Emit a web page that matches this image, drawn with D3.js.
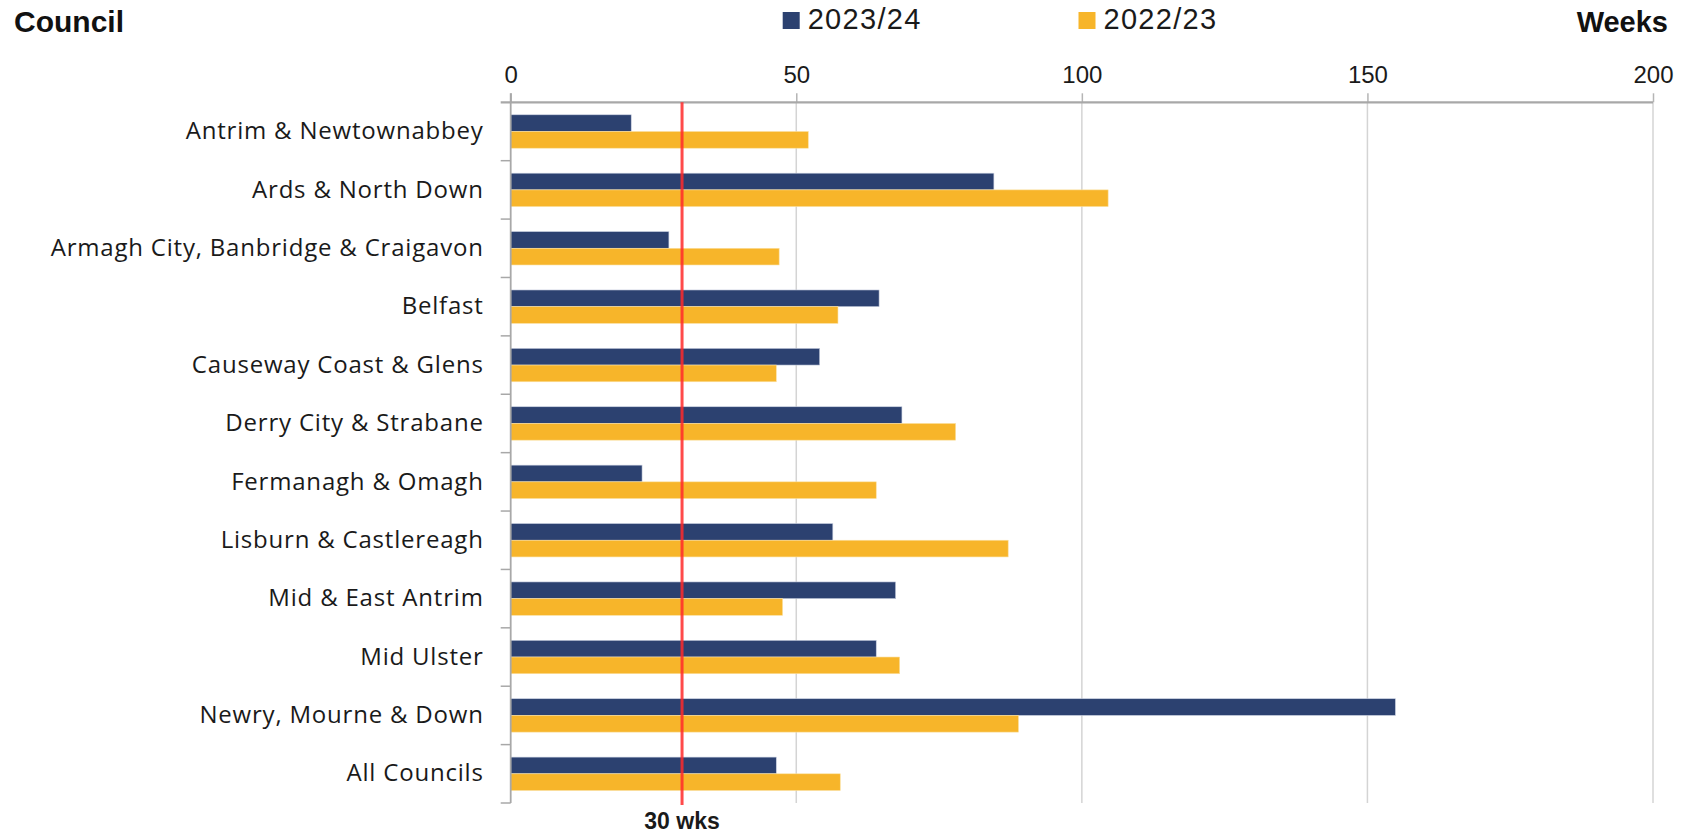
<!DOCTYPE html>
<html>
<head>
<meta charset="utf-8">
<script src="https://cdn.jsdelivr.net/npm/d3@7"></script>
<style>
  body { margin: 0; background: #fff; }
  svg { display: block; }
</style>
</head>
<body>
<svg id="chart" width="1686" height="836"></svg>
<script>
const councils = [
  "Antrim & Newtownabbey",
  "Ards & North Down",
  "Armagh City, Banbridge & Craigavon",
  "Belfast",
  "Causeway Coast & Glens",
  "Derry City & Strabane",
  "Fermanagh & Omagh",
  "Lisburn & Castlereagh",
  "Mid & East Antrim",
  "Mid Ulster",
  "Newry, Mourne & Down",
  "All Councils"
];
const weeks2324 = [21.1, 84.6, 27.7, 64.5, 54.1, 68.5, 23.0, 56.4, 67.4, 64.0, 154.9, 46.5];
const weeks2223 = [52.1, 104.6, 47.0, 57.3, 46.5, 77.9, 64.0, 87.1, 47.6, 68.1, 88.9, 57.7];
const seriesNames = ["2023/24", "2022/23"];
const seriesColors = ["#2C4170", "#F7B52A"];
const xTicks = [0, 50, 100, 150, 200];
const targetWeeks = 30;
const targetLabel = "30 wks";

(function () {
const svg = d3.select("#chart");
const mLeft = 510.7, mRight = 1653, mTop = 102.3, mBottom = 803;
const font = "'Liberation Sans', Arial, sans-serif";

const x = d3.scaleLinear().domain([0, 200]).range([mLeft, mRight]);
const y = d3.scaleBand().domain(councils).range([mTop, mBottom]).padding(0);
const barH = 16.7;

// grid lines
svg.append("g").selectAll("line").data(xTicks.filter(d => d > 0)).join("line")
  .attr("x1", d => x(d)).attr("x2", d => x(d))
  .attr("y1", mTop).attr("y2", mBottom)
  .attr("stroke", "#d4d4d4").attr("stroke-width", 1.5);

// bars
const data = councils.map((c, i) => ({c, v: [weeks2324[i], weeks2223[i]]}));
const g = svg.append("g");
data.forEach(d => {
  d.v.forEach((v, k) => {
    g.append("rect")
      .attr("x", x(0))
      .attr("y", y(d.c) + y.bandwidth() / 2 - barH + k * barH)
      .attr("width", x(v) - x(0))
      .attr("height", barH)
      .attr("fill", seriesColors[k])
      .attr("stroke", k === 0 ? "#c8cfe0" : "#fbe0a0")
      .attr("stroke-width", 0.6);
  });
});

// top axis
const xAxis = d3.axisTop(x).tickValues(xTicks).tickSize(9).tickPadding(10).tickFormat(d3.format("d"));
const ax = svg.append("g").attr("transform", `translate(0,${mTop})`).call(xAxis);
ax.select(".domain").remove();
ax.selectAll(".tick line").attr("stroke", "#b5b5b5").attr("stroke-width", 1.5);
ax.selectAll(".tick text").attr("font-family", font).attr("font-size", 24).attr("fill", "#1a1a1a");
svg.append("line").attr("x1", mLeft - 10).attr("x2", mRight).attr("y1", mTop).attr("y2", mTop)
  .attr("stroke", "#a8a8a8").attr("stroke-width", 2.2);

// left axis
svg.append("line").attr("x1", mLeft).attr("x2", mLeft).attr("y1", mTop - 9).attr("y2", mBottom)
  .attr("stroke", "#a8a8a8").attr("stroke-width", 1.8);
const boundaries = councils.map(c => y(c)).concat([mBottom]);
svg.append("g").selectAll("line").data(boundaries.slice(1)).join("line")
  .attr("x1", mLeft - 10).attr("x2", mLeft).attr("y1", d => d).attr("y2", d => d)
  .attr("stroke", "#a8a8a8").attr("stroke-width", 1.5);

const yAxis = d3.axisLeft(y).tickSize(0).tickPadding(27);
const ay = svg.append("g").attr("transform", `translate(${mLeft},0)`).call(yAxis);
ay.select(".domain").remove();
ay.selectAll(".tick text").attr("font-family", "'Open Sans', 'Liberation Sans', sans-serif")
  .attr("font-size", 24).attr("letter-spacing", "0.8px").attr("fill", "#1a1a1a");

// target line
svg.append("line").attr("x1", x(targetWeeks)).attr("x2", x(targetWeeks))
  .attr("y1", mTop).attr("y2", 805)
  .attr("stroke", "#FF2A2A").attr("stroke-opacity", 0.85).attr("stroke-width", 3);
svg.append("text").attr("x", x(targetWeeks)).attr("y", 829).attr("text-anchor", "middle")
  .attr("font-family", font).attr("font-weight", "bold").attr("font-size", 23).attr("fill", "#1a1a1a")
  .text(targetLabel);

// titles
svg.append("text").attr("x", 14).attr("y", 31.7)
  .attr("font-family", font).attr("font-weight", "bold").attr("font-size", 30).attr("fill", "#111")
  .text("Council");
svg.append("text").attr("x", 1668).attr("y", 31.7).attr("text-anchor", "end")
  .attr("font-family", font).attr("font-weight", "bold").attr("font-size", 29).attr("fill", "#111")
  .text("Weeks");

// legend
const legendX = [782.7, 1078.5];
seriesNames.forEach((s, k) => {
  svg.append("rect").attr("x", legendX[k]).attr("y", 12).attr("width", 17).attr("height", 17)
    .attr("fill", seriesColors[k]);
  svg.append("text").attr("x", legendX[k] + 25).attr("y", 28.5)
    .attr("font-family", font).attr("font-size", 29).attr("letter-spacing", "1.3px").attr("fill", "#1a1a1a")
    .text(s);
});
})();
</script>
</body>
</html>
